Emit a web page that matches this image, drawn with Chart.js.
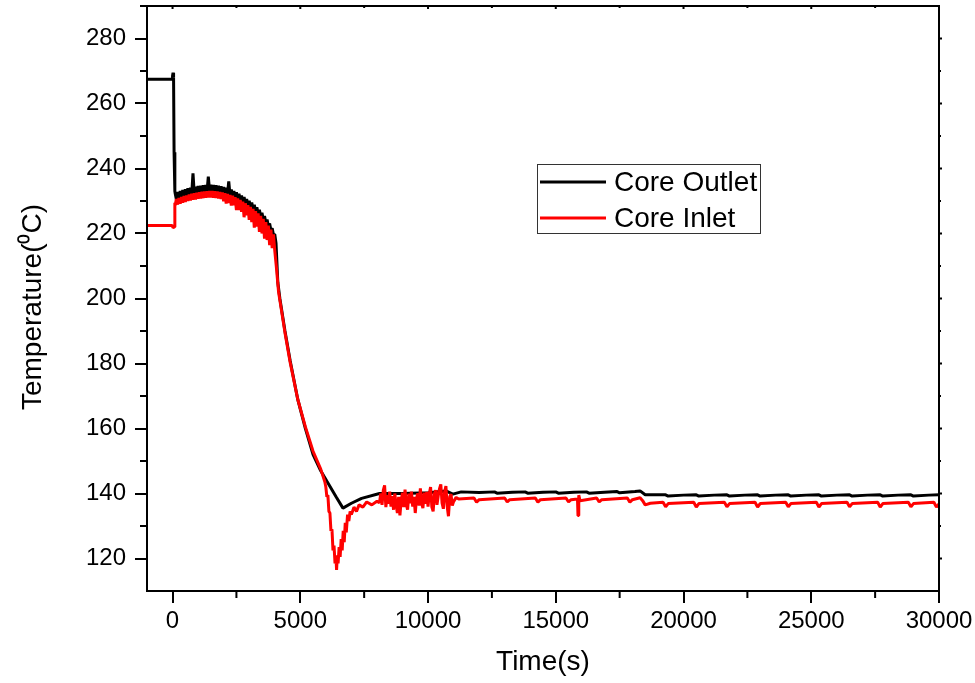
<!DOCTYPE html>
<html>
<head>
<meta charset="utf-8">
<script src="https://cdn.jsdelivr.net/npm/chart.js@4/dist/chart.umd.min.js"></script>
<style>
html,body{margin:0;padding:0;background:#fff;}
#wrap{width:975px;height:683px;position:relative;}
</style>
</head>
<body>
<div id="wrap"><canvas id="c" width="975" height="683"></canvas></div>
<script>
// ---- data ----
const seriesNames = ["Core Outlet", "Core Inlet"];
const xTitle = "Time(s)";
const yTitle = "Temperature(\u2070C)";
const xTickValues = [0, 5000, 10000, 15000, 20000, 25000, 30000];
const yTickValues = [120, 140, 160, 180, 200, 220, 240, 260, 280];

const outletTime = [-1000, -20, 0, 20, 40, 60, 90,
  100, 150, 200, 250, 300, 350, 400, 450, 500, 550, 600, 650, 700, 750,
  800, 850, 900, 950, 1000, 1050, 1100, 1150, 1200, 1250, 1300, 1350, 1400, 1450,
  1500, 1550, 1600, 1650, 1700, 1750, 1800, 1850, 1900, 1950, 2000, 2050, 2100, 2150,
  2200, 2250, 2300, 2350, 2400, 2450, 2500, 2550, 2600, 2650, 2700, 2750, 2800, 2850,
  2900, 2950, 3000, 3050, 3100, 3150, 3200, 3250, 3300, 3350, 3400, 3450, 3500, 3550,
  3600, 3650, 3700, 3750, 3800, 3850, 3900, 3950, 4000,
  4050, 4120, 4200, 4400, 4600, 4900, 5200, 5500, 5800, 6100, 6400, 6670,
  7000, 7400, 8100, 9000, 10000, 10700, 10970, 11300,
  12000, 12600, 12700, 13300, 13800, 13900, 14500, 15000, 15100, 15700,
  16200, 16300, 16900, 17400, 17500, 18100, 18300, 18500,
  18900, 19300, 19400, 20000, 20500, 20600, 21200, 21700, 21800, 22400,
  22900, 23000, 23600, 24100, 24200, 24800, 25300, 25400, 26000, 26500,
  26600, 27200, 27700, 27800, 28400, 28900, 29000, 29600, 30000];
const outletTemp = [267.5, 267.5, 268.5, 269.5, 268, 245, 233,
  232.5, 230.5, 232.8, 230.8, 233.1, 231.1, 233.4, 231.4, 233.6, 231.6, 233.9, 231.9, 234.1, 232.1,
  238.5, 232.3, 234.4, 232.4, 234.6, 232.6, 234.7, 232.7, 234.8, 232.8, 234.9, 232.9, 237.5, 233.0,
  235.0, 233.0, 234.9, 232.9, 234.8, 232.8, 234.7, 232.7, 234.5, 232.5, 234.3, 232.3, 234.1, 232.1,
  236.0, 231.8, 233.5, 231.5, 233.1, 231.1, 232.7, 230.7, 232.2, 230.2, 231.7, 229.7, 231.2, 229.2,
  230.6, 228.6, 230.1, 228.1, 229.5, 227.5, 228.8, 226.8, 228.1, 226.1, 227.3, 225.3, 226.4, 224.4,
  225.4, 223.4, 224.3, 222.3, 223.1, 221.1, 221.6, 219.6, 219.8,
  217, 205, 200, 190, 181, 169, 160, 152, 147, 143, 139, 135.5,
  137, 138.5, 140, 140, 140.2, 140.8, 139.8, 140.5,
  140.3, 140.5, 140.1, 140.4, 140.5, 140.1, 140.4, 140.5, 140.1, 140.4,
  140.5, 140.1, 140.4, 140.6, 140.2, 140.6, 140.8, 139.6,
  139.6, 139.6, 139.2, 139.5, 139.6, 139.2, 139.5, 139.6, 139.2, 139.5,
  139.6, 139.2, 139.5, 139.6, 139.2, 139.5, 139.6, 139.2, 139.5, 139.6,
  139.2, 139.5, 139.6, 139.2, 139.5, 139.6, 139.2, 139.5, 139.6];

const inletTime = [-1000, -20, 20, 60, 90,
  100, 150, 200, 250, 300, 350, 400, 450, 500, 550, 600, 650, 700, 750,
  800, 850, 900, 950, 1000, 1050, 1100, 1150, 1200, 1250, 1300, 1350, 1400, 1450,
  1500, 1550, 1600, 1650, 1700, 1750, 1800, 1850, 1900, 1950, 2000, 2050, 2100, 2150,
  2200, 2250, 2300, 2350, 2400, 2450, 2500, 2550, 2600, 2650, 2700, 2750, 2800, 2850,
  2900, 2950, 3000, 3050, 3100, 3150, 3200, 3250, 3300, 3350, 3400, 3450, 3500, 3550,
  3600, 3650, 3700, 3750, 3800, 3850, 3900, 3950, 4000,
  4060, 4150, 4200, 4400, 4600, 4900, 5200, 5500, 5800, 5960,
  6000, 6040, 6080, 6120, 6160, 6200, 6240, 6280, 6320, 6360, 6400, 6420,
  6450, 6480, 6520, 6560, 6600, 6640, 6680, 6720, 6760, 6800, 6850, 6900, 6950,
  7000, 7100, 7200, 7300, 7450, 7600, 7800, 8000,
  8100, 8150, 8200, 8250, 8300, 8350, 8400, 8450, 8500, 8550,
  8600, 8650, 8700, 8750, 8800, 8850, 8900, 8950, 9000, 9050,
  9100, 9150, 9200, 9250, 9300, 9350, 9400, 9450, 9500, 9550,
  9600, 9650, 9700, 9750, 9800, 9850, 9900, 9950, 10000, 10050,
  10100, 10150, 10200, 10250, 10300, 10350, 10400, 10450, 10500, 10550,
  10600, 10650, 10700, 10750, 10800, 10850, 10900, 10950, 11000, 11100, 11200,
  11800, 11900, 12000, 13000, 13100, 13200, 14200, 14300, 14400,
  15400, 15500, 15600, 15850, 15870, 15900, 15950, 16600, 16700, 16800,
  17800, 17900, 18000, 18300, 18400, 18500, 18700,
  19200, 19300, 19400, 20400, 20500, 20600, 21600, 21700, 21800,
  22800, 22900, 23000, 24000, 24100, 24200, 25200, 25300, 25400,
  26400, 26500, 26600, 27600, 27700, 27800, 28800, 28900, 29000,
  29800, 29900, 30000];
const inletTemp = [222.5, 222.5, 221.8, 222, 229.5,
  228.6, 230.6, 228.9, 230.9, 229.2, 231.2, 229.5, 231.5, 229.7, 231.7, 230.0, 232.0, 230.2, 232.2,
  230.4, 232.4, 230.5, 232.5, 230.7, 232.7, 230.8, 232.8, 230.9, 232.9, 231.0, 233.0, 231.1, 233.1,
  231.1, 233.1, 231.0, 233.0, 230.9, 232.9, 230.8, 232.8, 230.6, 232.6, 229.9, 232.4, 229.2, 232.2,
  229.4, 231.9, 228.6, 231.6, 228.7, 231.2, 227.2, 230.8, 227.2, 230.3, 226.7, 229.8, 225.0, 229.3,
  225.6, 228.7, 224.2, 228.2, 223.5, 227.6, 221.8, 226.9, 222.1, 226.2, 220.5, 225.4, 220.0, 224.5,
  218.4, 223.5, 218.0, 222.4, 216.4, 221.2, 215.5, 219.7, 214.8,
  210, 202, 199.5, 189.5, 180.5, 169, 160.5, 153, 147.5, 143.6,
  142, 139, 139.5, 134.5, 134, 128.5, 129, 122.5, 124, 118.5, 120, 116.5,
  121, 118.5, 123.5, 120.5, 126, 122.5, 128.5, 125, 131, 128, 133.5, 131.5, 134.5,
  133.5, 135.8, 134.5, 136.5, 135.8, 137.4, 136.5, 137.6,
  137.2, 140, 136.5, 141, 142.5, 135.8, 139.5, 136.8, 140.6, 136,
  139.2, 135, 140, 136.6, 134, 139, 133.3, 138, 140.2, 135.8,
  141.2, 136.6, 135, 140, 137, 140.6, 136, 139, 134, 138.5,
  140, 136.3, 141.6, 137, 135.5, 140.3, 136.8, 140.5, 136, 140,
  142, 135.8, 134.5, 140, 141, 136.5, 139.3, 141.5, 142.8, 137,
  135.3, 140.5, 142.3, 136, 133, 139, 139.8, 136.3, 137.5, 138.8, 138.3,
  138.6, 137.3, 138.1, 138.6, 137.4, 138.1, 138.6, 137.3, 138.1,
  138.6, 137.4, 138.1, 138.3, 133.2, 139.5, 137.8, 138.6, 137.4, 138.1,
  138.6, 137.3, 138.1, 138.7, 137.8, 136.5, 137.0,
  137.3, 135.9, 136.9, 137.3, 135.8, 136.9, 137.3, 135.9, 136.9,
  137.3, 135.8, 136.9, 137.3, 135.9, 136.9, 137.3, 135.8, 136.9,
  137.3, 135.9, 136.9, 137.3, 135.8, 136.9, 137.3, 135.9, 136.9,
  137.3, 135.8, 136.8];

const toPoints = (xs, ys) => xs.map((x, i) => ({x: x, y: ys[i]}));

const FONT = "'Liberation Sans', Arial, sans-serif";

const framePlugin = {
  id: 'frame',
  afterDatasetsDraw(chart) {
    const ctx = chart.ctx, a = chart.chartArea;
    const xs = chart.scales.x, ys = chart.scales.y;
    ctx.save();
    ctx.strokeStyle = '#000';
    ctx.lineWidth = 2;
    ctx.strokeRect(a.left, a.top, a.right - a.left, a.bottom - a.top);
    ctx.beginPath();
    const xv = xTickValues;
    for (let i = 0; i < xv.length; i++) {
      const px = xs.getPixelForValue(xv[i]);
      ctx.moveTo(px, a.top); ctx.lineTo(px, a.top + 3);
      if (i < xv.length - 1) {
        const m = xs.getPixelForValue((xv[i] + xv[i + 1]) / 2);
        ctx.moveTo(m, a.bottom); ctx.lineTo(m, a.bottom + 7);
        ctx.moveTo(m, a.top); ctx.lineTo(m, a.top + 2);
      }
    }
    const yv = yTickValues;
    for (let i = 0; i < yv.length; i++) {
      const py = ys.getPixelForValue(yv[i]);
      ctx.moveTo(a.right, py); ctx.lineTo(a.right + 3, py);
      if (i < yv.length - 1) {
        const m = ys.getPixelForValue((yv[i] + yv[i + 1]) / 2);
        ctx.moveTo(a.left, m); ctx.lineTo(a.left - 7, m);
        ctx.moveTo(a.right, m); ctx.lineTo(a.right + 2, m);
      }
    }
    const top = ys.getPixelForValue(yv[yv.length - 1] + 10);
    ctx.moveTo(a.left, top); ctx.lineTo(a.left - 7, top);
    ctx.stroke();
    ctx.restore();
  },
  afterDraw(chart) {
    const ctx = chart.ctx;
    ctx.save();
    ctx.fillStyle = '#000';
    ctx.font = '28px ' + FONT;
    ctx.textAlign = 'center';
    ctx.textBaseline = 'middle';
    ctx.translate(33, 307);
    ctx.rotate(-Math.PI / 2);
    ctx.fillText(yTitle, 0, 0);
    ctx.restore();

    ctx.save();
    ctx.strokeStyle = '#333';
    ctx.lineWidth = 1;
    ctx.strokeRect(537.5, 164.5, 223, 69);
    const rows = [{name: seriesNames[0], color: '#000', y: 182},
                  {name: seriesNames[1], color: '#ff0000', y: 218}];
    rows.forEach(r => {
      ctx.strokeStyle = r.color;
      ctx.lineWidth = 3;
      ctx.beginPath();
      ctx.moveTo(540, r.y); ctx.lineTo(606, r.y);
      ctx.stroke();
      ctx.fillStyle = '#000';
      ctx.font = '28px ' + FONT;
      ctx.textBaseline = 'middle';
      ctx.textAlign = 'left';
      ctx.fillText(r.name, 614, r.y + 1);
    });
    ctx.restore();
  }
};

new Chart(document.getElementById('c'), {
  type: 'line',
  data: {
    datasets: [
      {label: seriesNames[0], data: toPoints(outletTime, outletTemp), borderColor: '#000',
       borderWidth: 3, borderJoinStyle: 'bevel', pointRadius: 0, tension: 0, order: 1},
      {label: seriesNames[1], data: toPoints(inletTime, inletTemp), borderColor: '#ff0000',
       borderWidth: 3, borderJoinStyle: 'bevel', pointRadius: 0, tension: 0, order: 0}
    ]
  },
  options: {
    responsive: false,
    animation: false,
    events: [],
    layout: {padding: {left: 0, top: 6, right: 36, bottom: 0}},
    plugins: {legend: {display: false}, tooltip: {enabled: false}},
    scales: {
      x: {
        type: 'linear', min: -1000, max: 30000,
        afterBuildTicks: s => { s.ticks = xTickValues.map(v => ({value: v})); },
        afterFit: s => { s.height = 92; s.paddingLeft = 0; s.paddingRight = 0; },
        grid: {drawOnChartArea: false, drawTicks: true, tickLength: 12, color: '#000', lineWidth: 2},
        border: {display: true, color: '#000', width: 2},
        ticks: {color: '#000', font: {family: FONT, size: 24}, padding: 4, maxRotation: 0,
                callback: v => String(v)},
        title: {display: true, text: xTitle, color: '#000', font: {family: FONT, size: 28},
                padding: {top: 0, bottom: 4}}
      },
      y: {
        type: 'linear', min: 110, max: 290,
        afterBuildTicks: s => { s.ticks = yTickValues.map(v => ({value: v})); },
        afterFit: s => { s.width = 147; s.paddingTop = 0; s.paddingBottom = 0; },
        grid: {drawOnChartArea: false, drawTicks: true, tickLength: 12, color: '#000', lineWidth: 2},
        border: {display: true, color: '#000', width: 2},
        ticks: {color: '#000', font: {family: FONT, size: 24}, padding: 9,
                callback: v => String(v)},
        title: {display: false}
      }
    }
  },
  plugins: [framePlugin]
});
</script>
</body>
</html>
